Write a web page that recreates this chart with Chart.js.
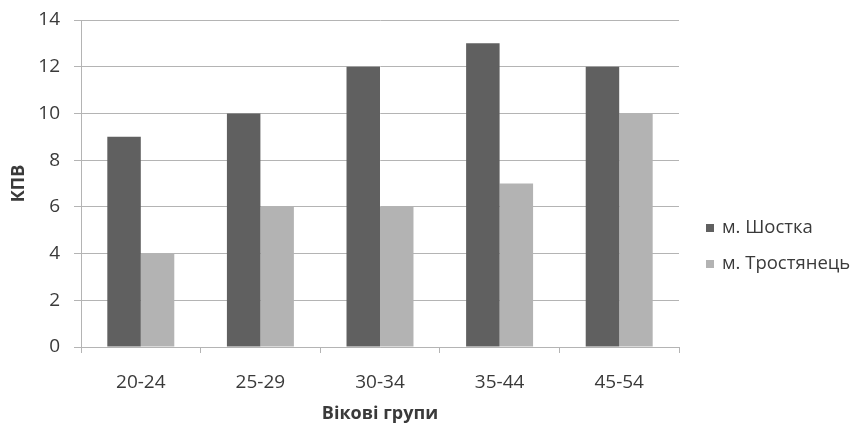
<!DOCTYPE html>
<html>
<head>
<meta charset="utf-8">
<script src="https://cdn.jsdelivr.net/npm/chart.js@4/dist/chart.umd.min.js"></script>
<style>
  html, body { margin: 0; padding: 0; background: #fff; }
  #wrap { width: 852px; height: 425px; position: relative; }
</style>
</head>
<body>
<div id="wrap"><canvas id="c" width="852" height="425"></canvas></div>
<script>
// Age groups and index values for the two towns
const categories = ['20-24', '25-29', '30-34', '35-44', '45-54'];
const shostka = [9, 10, 12, 13, 12];
const trostianets = [4, 6, 6, 7, 10];
const seriesNames = ['м. Шостка', 'м. Тростянець'];
const yTicks = [0, 2, 4, 6, 8, 10, 12, 14];

const textColor = '#3a3a3a';
const gridColor = '#b4b4b4';
const fontFamily = '"Open Sans", "DejaVu Sans", sans-serif';

// Legend drawn at the right, to the side of the plot
const sideLegend = {
  id: 'sideLegend',
  afterDraw(chart) {
    const ctx = chart.ctx;
    const items = chart.data.datasets;
    ctx.save();
    ctx.font = '18.5px ' + fontFamily;
    ctx.textBaseline = 'middle';
    ctx.textAlign = 'left';
    items.forEach((ds, i) => {
      const cy = 228 + i * 36;
      ctx.fillStyle = ds.backgroundColor;
      ctx.fillRect(706, cy - 4, 8, 8);
      ctx.fillStyle = textColor;
      ctx.fillText(ds.label, 722, cy);
    });
    ctx.restore();
  }
};

new Chart(document.getElementById('c'), {
  type: 'bar',
  data: {
    labels: categories,
    datasets: [
      { label: seriesNames[0], data: shostka, backgroundColor: '#606060' },
      { label: seriesNames[1], data: trostianets, backgroundColor: '#b3b3b3' }
    ]
  },
  options: {
    responsive: false,
    animation: false,
    devicePixelRatio: 1,
    layout: { padding: { left: 0, right: 173, top: 20, bottom: 0 } },
    datasets: { bar: { categoryPercentage: 0.56, barPercentage: 1.0 } },
    plugins: { legend: { display: false }, tooltip: { enabled: false } },
    scales: {
      x: {
        afterFit(s) { s.height = 78; },
        grid: { drawOnChartArea: false, drawTicks: true, tickLength: 6, color: gridColor, lineWidth: 1 },
        border: { display: true, color: gridColor },
        ticks: { color: textColor, font: { family: fontFamily, size: 19 }, padding: 18 },
        title: { display: true, text: 'Вікові групи', color: textColor,
                 font: { family: fontFamily, size: 18, weight: 'bold' }, padding: { top: 0, bottom: 0 } }
      },
      y: {
        min: 0, max: 14,
        // fixed axis width; the top label fits inside the layout padding
        afterFit(s) { s.width = 81; s.paddingTop = 0; },
        afterBuildTicks(s) { s.ticks = yTicks.map(v => ({ value: v })); },
        grid: { color: gridColor, lineWidth: 1, tickLength: 7 },
        border: { display: true, color: gridColor },
        ticks: { color: textColor, font: { family: fontFamily, size: 19 }, padding: 14 },
        title: { display: true, text: 'КПВ', color: textColor,
                 font: { family: fontFamily, size: 18, weight: 'bold' }, padding: { top: 8, bottom: 0 } }
      }
    }
  },
  plugins: [sideLegend]
});
</script>
</body>
</html>
